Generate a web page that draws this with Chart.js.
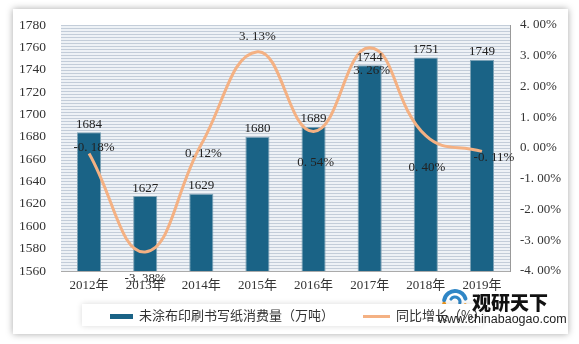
<!DOCTYPE html>
<html>
<head>
<meta charset="utf-8">
<script src="https://cdn.jsdelivr.net/npm/chart.js@4"></script>
<style>
  body { margin: 0; background: #ffffff; width: 579px; height: 344px; position: relative; overflow: hidden; }
  #card { position: absolute; left: 13px; top: 9px; width: 555px; height: 325px; background: #fff; box-shadow: 0 0 7px rgba(0,0,0,0.35); }
  #wrap { position: absolute; left: 0; top: 0; width: 579px; height: 344px; }
  #legend { position: absolute; left: 82px; top: 304px; width: 400px; height: 22px; background: #fff; box-shadow: 0 0 6px rgba(0,0,0,0.15);
    font-family: "Noto Sans CJK SC", sans-serif; font-size: 13px; color: #333; }
  .item { position: absolute; top: 2px; line-height: 18px; white-space: nowrap; }
  .sw { display: inline-block; vertical-align: middle; margin-right: 6px; }
  #mark { position: absolute; left: 472px; top: 288px; font-family: "Noto Sans CJK SC", sans-serif; }
  #mark .cn { font-size: 19px; font-weight: 900; color: #111; letter-spacing: 0px; }
  #mark .url { position: absolute; left: -34px; top: 24px; font-family: "Liberation Sans", sans-serif; font-size: 12.5px; color: #222; white-space: nowrap; }
</style>
</head>
<body>
<div id="card"></div>
<div id="wrap"><canvas id="myChart" width="579" height="344"></canvas></div>
<div id="legend">
  <div class="item" style="left:28px"><span class="sw" style="width:23px;height:5px;background:#1a6386"></span>未涂布印刷书写纸消费量（万吨）</div>
  <div class="item" style="left:281px"><span class="sw" style="width:27px;height:3px;background:#f4b183"></span>同比增长（%）</div>
</div>
<div id="mark"><span class="cn">观研天下</span><div class="url">www.chinabaogao.com</div></div>
<script>
//datos
const years = ['2012年','2013年','2014年','2015年','2016年','2017年','2018年','2019年'];
const consumo = [1684, 1627, 1629, 1680, 1689, 1744, 1751, 1749];
const crecimiento = [-0.18, -3.38, 0.12, 3.13, 0.54, 3.26, 0.40, -0.11];
//posicion de etiquetas de la linea (dx, dy respecto al punto)
const offsLinea = [[5,-6],[0,27],[2,9],[0,-15],[2,31],[2,23],[1,32],[12,6]];

const serif = '"Liberation Serif", "Noto Sans CJK SC", serif';

//fondo rayado del area del grafico
const fondo = {
  id: 'fondo',
  beforeDraw(chart) {
    const {ctx, chartArea: a} = chart;
    ctx.save();
    ctx.fillStyle = '#eef2f6';
    ctx.fillRect(a.left, a.top, a.right - a.left, a.bottom - a.top);
    ctx.strokeStyle = '#c3cdd9';
    ctx.lineWidth = 1;
    for (let y = a.top + 0.5; y < a.bottom; y += 3) {
      ctx.beginPath();
      ctx.moveTo(a.left, y);
      ctx.lineTo(a.right, y);
      ctx.stroke();
    }
    ctx.restore();
  }
};

//logo de la marca de agua
const logo = {
  id: 'logo',
  afterDraw(chart) {
    const ctx = chart.ctx;
    ctx.save();
    ctx.lineCap = 'round';
    ctx.lineWidth = 4;
    ctx.strokeStyle = '#2f86c6';
    ctx.beginPath();
    ctx.arc(455, 302, 11, Math.PI * 1.05, Math.PI * 1.9);
    ctx.stroke();
    ctx.strokeStyle = '#f39a1e';
    ctx.beginPath();
    ctx.arc(455, 302, 11, Math.PI * 0.1, Math.PI * 0.95);
    ctx.stroke();
    ctx.lineWidth = 3;
    ctx.strokeStyle = '#2f86c6';
    ctx.beginPath();
    ctx.arc(455, 302, 5, Math.PI * 1.2, Math.PI * 2.1);
    ctx.stroke();
    ctx.restore();
  }
};

//etiquetas de datos
const etiquetas = {
  id: 'etiquetas',
  afterDatasetsDraw(chart) {
    const ctx = chart.ctx;
    ctx.save();
    ctx.font = '13px ' + serif;
    ctx.fillStyle = '#222';
    ctx.textAlign = 'center';
    ctx.textBaseline = 'middle';
    chart.getDatasetMeta(1).data.forEach((b, i) => {
      ctx.fillText(String(consumo[i]), b.x, b.y - 8);
    });
    chart.getDatasetMeta(0).data.forEach((p, i) => {
      const o = offsLinea[i];
      ctx.fillText(crecimiento[i].toFixed(2).replace('.', '. ') + '%', p.x + o[0], p.y + o[1]);
    });
    ctx.restore();
  }
};

let ctx = document.getElementById('myChart').getContext('2d');
let myChart = new Chart(ctx, {
  data: {
    labels: years,
    datasets: [{
      type: 'line',
      label: '同比增长（%）',
      data: crecimiento,
      yAxisID: 'y1',
      borderColor: '#f4b183',
      borderWidth: 3,
      pointRadius: 0,
      tension: 0.45,
      order: 0
    }, {
      type: 'bar',
      label: '未涂布印刷书写纸消费量（万吨）',
      data: consumo,
      yAxisID: 'y',
      backgroundColor: '#1a6386',
      borderColor: '#7fa3b6',
      borderWidth: 1,
      barPercentage: 0.43,
      categoryPercentage: 1,
      order: 1
    }]
  },
  options: {
    responsive: false,
    animation: false,
    layout: { padding: { left: 13, right: 0, top: 25, bottom: 43 } },
    plugins: { legend: { display: false }, tooltip: { enabled: false } },
    scales: {
      x: {
        grid: { display: false, drawTicks: false },
        border: { color: '#aaa' },
        ticks: { color: '#333', font: { family: serif, size: 13 }, padding: 7, maxRotation: 0 },
        afterFit: s => { s.height = 30; }
      },
      y: {
        position: 'left',
        min: 1560, max: 1780,
        grid: { display: false },
        border: { display: false },
        ticks: { stepSize: 20, color: '#333', font: { family: serif, size: 13.5 }, padding: 7,
          callback: v => String(v) },
        afterFit: s => { s.width = 48; }
      },
      y1: {
        position: 'right',
        min: -4, max: 4,
        grid: { display: false, drawOnChartArea: false, drawTicks: true, tickLength: 4, tickColor: '#999' },
        border: { color: '#999' },
        ticks: { stepSize: 1, color: '#333', font: { family: serif, size: 13 }, padding: 6,
          callback: v => v.toFixed(2).replace('.', '. ') + '%' },
        afterFit: s => { s.width = 69; }
      }
    }
  },
  plugins: [fondo, etiquetas, logo]
});
</script>
</body>
</html>
